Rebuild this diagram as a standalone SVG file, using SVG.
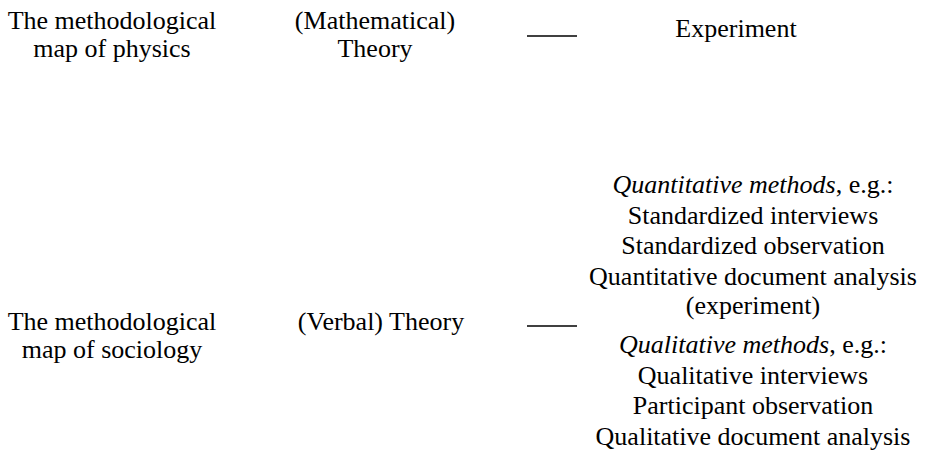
<svg xmlns="http://www.w3.org/2000/svg" width="925" height="470" viewBox="0 0 925 470">
<style>
text{font-family:"Liberation Serif","Times New Roman",serif;font-size:26px;fill:#000;text-anchor:middle}
.it{font-style:italic}
line{stroke:#000;stroke-width:1.3}
</style>
<rect width="925" height="470" fill="#fff"/>
<g id="physics-label"><text x="112" y="29">The methodological</text><text x="112" y="57">map of physics</text></g>
<g id="physics-theory"><text x="375" y="29">(Mathematical)</text><text x="375" y="57">Theory</text></g>
<g id="physics-experiment"><text x="736" y="37">Experiment</text></g>
<g id="sociology-label"><text x="112" y="330">The methodological</text><text x="112" y="358">map of sociology</text></g>
<g id="sociology-theory"><text x="381" y="330">(Verbal) Theory</text></g>
<g id="sociology-methods">
<text x="753" y="193"><tspan class="it">Quantitative methods</tspan>, e.g.:</text>
<text x="753" y="224">Standardized interviews</text>
<text x="753" y="254">Standardized observation</text>
<text x="753" y="285">Quantitative document analysis</text>
<text x="753" y="314">(experiment)</text>
<text x="753" y="353"><tspan class="it">Qualitative methods</tspan>, e.g.:</text>
<text x="753" y="384">Qualitative interviews</text>
<text x="753" y="414">Participant observation</text>
<text x="753" y="445">Qualitative document analysis</text>
</g>
<g id="connectors">
<line x1="527" y1="36" x2="577" y2="36"/>
<line x1="527" y1="326" x2="577" y2="326"/>
</g>
</svg>
